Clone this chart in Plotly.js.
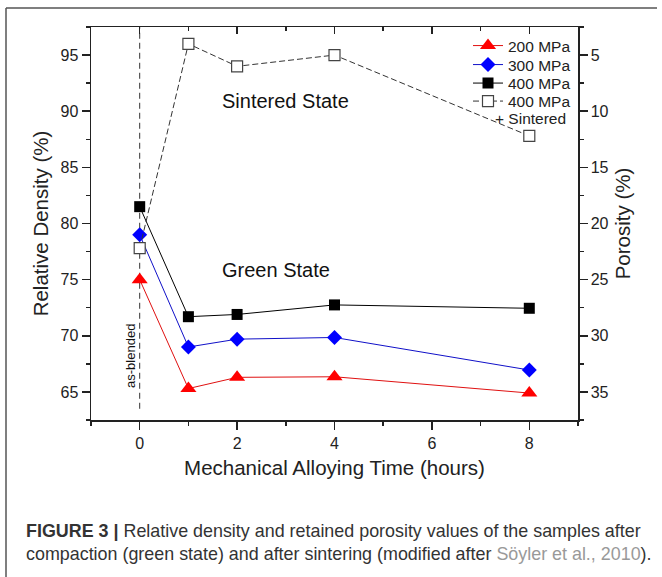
<!DOCTYPE html>
<html><head><meta charset="utf-8">
<script src="https://cdn.plot.ly/plotly-3.0.1.min.js"></script>
<style>html,body{margin:0;padding:0;background:#fff;} #chart{width:662px;height:577px;}</style>
</head><body><div id="chart"></div>
<script>
// ---- data ----
const times = [0, 1, 2, 4, 8];                       // Mechanical alloying time (hours)
const density200 = [75.0, 65.3, 66.3, 66.35, 64.9]; // 200 MPa green
const density300 = [79.0, 69.0, 69.7, 69.85, 66.95];// 300 MPa green
const density400 = [81.5, 71.7, 71.9, 72.75, 72.45];// 400 MPa green
const density400Sintered = [77.8, 96.0, 94.0, 95.0, 87.8]; // 400 MPa + sintered
const seriesNames = ['200 MPa', '300 MPa', '400 MPa', '400 MPa'];
const xTickVals = [0, 2, 4, 6, 8];
const densityTickVals = [65, 70, 75, 80, 85, 90, 95];
const porosityTickVals = [5, 10, 15, 20, 25, 30, 35];

const FONT = 'Liberation Sans, Arial, sans-serif';
const AX = '#222';

const traces = [
  {x: times, y: density200, name: seriesNames[0], mode: 'lines+markers', legend: 'legend',
   line: {color: '#e01010', width: 1},
   marker: {symbol: 'triangle-up', size: 14, color: '#ff0000'}},
  {x: times, y: density300, name: seriesNames[1], mode: 'lines+markers', legend: 'legend2',
   line: {color: '#1010c8', width: 1},
   marker: {symbol: 'diamond', size: 11.5, color: '#0000ff'}},
  {x: times, y: density400, name: seriesNames[2], mode: 'lines+markers', legend: 'legend3',
   line: {color: '#000', width: 1},
   marker: {symbol: 'square', size: 11, color: '#000'}},
  {x: times, y: density400Sintered, name: seriesNames[3], mode: 'lines+markers', legend: 'legend4',
   line: {color: '#333', width: 1, dash: '6px,3px'},
   marker: {symbol: 'square', size: 11, color: '#fff', line: {color: '#444', width: 1.2}}},
  // helpers so the top and right axes get drawn
  {x: [null], y: [null], xaxis: 'x2', yaxis: 'y', showlegend: false, hoverinfo: 'skip'},
  {x: [null], y: [null], xaxis: 'x', yaxis: 'y2', showlegend: false, hoverinfo: 'skip'}
];

const W = 662, H = 577, L = 91, R = 84, T = 27, B = 157;
const pw = W - L - R, ph = H - T - B;
const px = v => (v - L) / pw;
const py = v => (H - B - v) / ph;

const legendBase = yc => ({x: px(468), y: py(yc), xanchor: 'left', yanchor: 'middle',
  bgcolor: 'rgba(0,0,0,0)', borderwidth: 0, font: {size: 15.5, family: FONT, color: '#222'}});

const layout = {
  width: W, height: H,
  margin: {l: L, r: R, t: T, b: B, pad: 0},
  paper_bgcolor: '#fff', plot_bgcolor: '#fff',
  font: {family: FONT, color: AX, size: 16},
  showlegend: true,
  legend: legendBase(46),
  legend2: legendBase(65),
  legend3: legendBase(83.5),
  legend4: legendBase(101.5),
  xaxis: {range: [-1, 9], tickvals: xTickVals, ticks: 'outside', ticklen: 8, tickwidth: 1.5,
          tickcolor: AX, showline: true, linecolor: AX, linewidth: 1.5, showgrid: false,
          zeroline: false, tickfont: {size: 16},
          minor: {dtick: 1, tick0: 0, ticks: 'outside', ticklen: 4, tickwidth: 1.5, tickcolor: AX, showgrid: false},
          title: {text: 'Mechanical Alloying Time (hours)', font: {size: 20.5}, standoff: 10}},
  xaxis2: {range: [-1, 9], overlaying: 'x', side: 'top', anchor: 'y', tickvals: xTickVals,
           ticks: 'inside', ticklen: 7, tickwidth: 1.5, tickcolor: AX, showticklabels: false,
           showline: true, linecolor: AX, linewidth: 1.5, showgrid: false, zeroline: false,
           minor: {dtick: 1, tick0: 0, ticks: 'inside', ticklen: 4, tickwidth: 1.5, tickcolor: AX, showgrid: false}},
  yaxis: {range: [62.5, 97.5], tickvals: densityTickVals, ticks: 'outside', ticklen: 8, tickwidth: 1.5,
          tickcolor: AX, showline: true, linecolor: AX, linewidth: 1.5, showgrid: false, zeroline: false,
          tickfont: {size: 16},
          minor: {dtick: 2.5, tick0: 0, ticks: 'outside', ticklen: 4, tickwidth: 1.5, tickcolor: AX, showgrid: false},
          title: {text: 'Relative Density (%)', font: {size: 20.5}, standoff: 6}},
  yaxis2: {range: [37.5, 2.5], overlaying: 'y', side: 'right', anchor: 'x', tickvals: porosityTickVals,
           ticks: 'outside', ticklen: 8, tickwidth: 1.5, tickcolor: AX, showline: true, linecolor: AX,
           linewidth: 1.5, showgrid: false, zeroline: false, tickfont: {size: 16},
           minor: {dtick: 2.5, tick0: 0, ticks: 'outside', ticklen: 4, tickwidth: 1.5, tickcolor: AX, showgrid: false},
           title: {text: 'Porosity (%)', font: {size: 20.5}, standoff: 8}},
  shapes: [
    {type: 'line', xref: 'x', yref: 'y', x0: 0, x1: 0, y0: 63.5, y1: 97.5,
     line: {color: '#333', width: 1, dash: '6px,4px'}, layer: 'below'},
    {type: 'line', xref: 'paper', yref: 'paper', x0: px(6), x1: px(657), y0: py(8), y1: py(8),
     line: {color: '#555', width: 1.5}},
    {type: 'line', xref: 'paper', yref: 'paper', x0: px(6), x1: px(6), y0: py(8), y1: py(577),
     line: {color: '#555', width: 1.5}}
  ],
  annotations: [
    {text: 'Sintered State', xref: 'x', yref: 'y', x: 1.65, y: 90.9, xanchor: 'left', yanchor: 'middle',
     showarrow: false, font: {size: 20, color: '#111'}},
    {text: 'Green State', xref: 'x', yref: 'y', x: 1.65, y: 75.9, xanchor: 'left', yanchor: 'middle',
     showarrow: false, font: {size: 20, color: '#111'}},
    {text: 'as-blended', xref: 'x', yref: 'y', x: -0.2, y: 68.2, textangle: -90,
     showarrow: false, font: {size: 13, color: '#111'}},
    {text: '+ Sintered', xref: 'paper', yref: 'paper', x: px(568), y: py(118.5), xanchor: 'right', yanchor: 'middle',
     showarrow: false, font: {size: 15.5, color: '#222'}},
    {text: '<b>FIGURE 3 |</b> Relative density and retained porosity values of the samples after<br>compaction (green state) and after sintering (modified after <span style="color:#999">Söyler et al., 2010</span>).',
     xref: 'paper', yref: 'paper', x: px(24), y: py(542), xanchor: 'left', yanchor: 'middle', align: 'left',
     showarrow: false, font: {size: 17.9, color: '#333', family: FONT}}
  ]
};

Plotly.newPlot('chart', traces, layout, {displayModeBar: false, staticPlot: true});
</script></body></html>
